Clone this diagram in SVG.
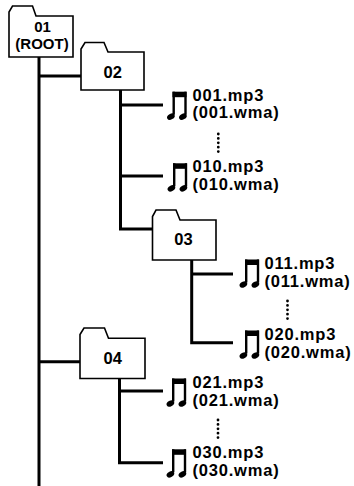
<svg xmlns="http://www.w3.org/2000/svg" width="354" height="486" viewBox="0 0 354 486">
<style>
.bg{fill:#fff}
.folder{fill:#fff;stroke:#000;stroke-width:1.6;stroke-linejoin:miter}
.conn{fill:none;stroke:#000;stroke-width:3;stroke-linejoin:miter;stroke-linecap:butt}
.flabel{font-family:"Liberation Sans",Arial,Helvetica,sans-serif;font-weight:bold;font-size:16.5px;fill:#000;text-anchor:middle}
.root{font-size:15px}
.file{font-family:"Liberation Sans",Arial,Helvetica,sans-serif;font-weight:bold;font-size:16.5px;letter-spacing:0.8px;fill:#000}
.dots{fill:none;stroke:#000;stroke-width:2.8;stroke-linecap:round;stroke-dasharray:0 4.4}
</style>
<defs>
<g id="note">
<rect x="0" y="0" width="14" height="5.5" fill="#000"/>
<rect x="0" y="0" width="2.4" height="23" fill="#000"/>
<rect x="11.8" y="0" width="2.4" height="23" fill="#000"/>
<ellipse cx="-1.6" cy="25" rx="4.1" ry="2.8" transform="rotate(-30 -1.6 25)" fill="#000"/>
<ellipse cx="10.4" cy="25" rx="4.1" ry="2.8" transform="rotate(-30 10.4 25)" fill="#000"/>
</g>
</defs>
<rect class="bg" x="0" y="0" width="354" height="486"/>
<g id="connectors">
<path class="conn" d="M39,57 V486"/>
<path class="conn" d="M39,76 H81"/>
<path class="conn" d="M39,361.7 H80"/>
<path class="conn" d="M120.5,90 V229 H152.5"/>
<path class="conn" d="M120.5,105 H163"/>
<path class="conn" d="M120.5,176 H163"/>
<path class="conn" d="M191.7,260 V342.7 H233"/>
<path class="conn" d="M191.7,274 H233"/>
<path class="conn" d="M119.5,378.5 V462.7 H163"/>
<path class="conn" d="M119.5,391 H163"/>
</g>
<g id="folder-01">
<path class="folder" d="M9,57 V12 L12.5,6 H32.5 L36,16 H73 V57 Z"/>
<text class="flabel root" x="42.5" y="31.5">01</text>
<text class="flabel root" x="42" y="49">(ROOT)</text>
</g>
<g id="folder-02">
<path class="folder" d="M81,90 V49 L85,42.5 H104 L108,52 H144 V90 Z"/>
<text class="flabel" x="112.7" y="78">02</text>
</g>
<g id="folder-03">
<path class="folder" d="M152.5,260 V216.5 L156,210 H176 L180,220 H216 V260 Z"/>
<text class="flabel" x="183.5" y="245">03</text>
</g>
<g id="folder-04">
<path class="folder" d="M80,378.5 V334.5 L84,328 H104.5 L108.5,338.3 H145 V378.5 Z"/>
<text class="flabel" x="112.7" y="364.3">04</text>
</g>
<g id="file-001">
<use href="#note" x="172.5" y="91.7"/>
<text class="file" x="192.5" y="100.5">001.mp3</text>
<text class="file" x="192.5" y="118">(001.wma)</text>
</g>
<path id="dots-1" class="dots" d="M218.3,134 V152"/>
<g id="file-010">
<use href="#note" x="173" y="163.3"/>
<text class="file" x="192.5" y="172">010.mp3</text>
<text class="file" x="192.5" y="189.5">(010.wma)</text>
</g>
<g id="file-011">
<use href="#note" x="245" y="259.5"/>
<text class="file" x="264.5" y="269">011.mp3</text>
<text class="file" x="264.5" y="286.5">(011.wma)</text>
</g>
<path id="dots-2" class="dots" d="M287.5,301 V319"/>
<g id="file-020">
<use href="#note" x="245" y="330.5"/>
<text class="file" x="264.5" y="340">020.mp3</text>
<text class="file" x="264.5" y="357.5">(020.wma)</text>
</g>
<g id="file-021">
<use href="#note" x="172" y="378.5"/>
<text class="file" x="192.5" y="388">021.mp3</text>
<text class="file" x="192.5" y="405.5">(021.wma)</text>
</g>
<path id="dots-3" class="dots" d="M218,420 V438"/>
<g id="file-030">
<use href="#note" x="172" y="449.3"/>
<text class="file" x="192.5" y="458">030.mp3</text>
<text class="file" x="192.5" y="475.5">(030.wma)</text>
</g>
</svg>
